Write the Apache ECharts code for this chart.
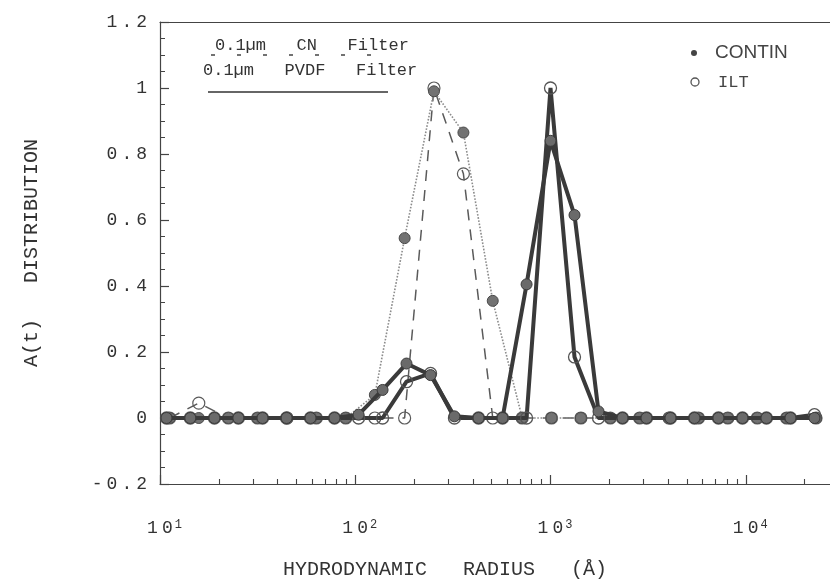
<!DOCTYPE html>
<html><head><meta charset="utf-8">
<script src="https://cdn.jsdelivr.net/npm/echarts@6/dist/echarts.min.js"></script>
<style>html,body{margin:0;padding:0;background:#fff}#c{width:830px;height:585px}</style>
</head><body><div id="c"></div>
<script>
// 0.1 µm CN filter (dotted = CONTIN, dashed = ILT)
const cnRadius = [11.2, 15.8, 22.4, 31.6, 44.7, 63.2, 89.4, 126, 179, 253, 358, 506, 716, 1012, 1431, 2024, 2862, 4048, 5724, 8095, 11450, 16190, 22900];
const cnContin = [0, 0, 0, 0, 0, 0, 0, 0.07, 0.545, 0.99, 0.865, 0.355, 0, 0, 0, 0, 0, 0, 0, 0, 0, 0, 0];
const cnIlt    = [0, 0.045, 0, 0, 0, 0, 0, 0, 0, 1.0, 0.74, 0, 0, 0, 0, 0, 0, 0, 0, 0, 0, 0, 0];
// 0.1 µm PVDF filter (solid lines)
const pvdfRadius = [10.8, 14.3, 19.0, 25.2, 33.5, 44.5, 59.0, 78.3, 104, 138, 183, 243, 322, 428, 568, 754, 1000, 1327, 1761, 2337, 3101, 4115, 5461, 7247, 9617, 12760, 16940, 22480];
const pvdfContin = [0, 0, 0, 0, 0, 0, 0, 0, 0.01, 0.085, 0.165, 0.13, 0.005, 0, 0, 0.405, 0.84, 0.615, 0.02, 0, 0, 0, 0, 0, 0, 0, 0, 0];
const pvdfIlt    = [0, 0, 0, 0, 0, 0, 0, 0, 0, 0, 0.11, 0.135, 0, 0, 0, 0, 1.0, 0.185, 0, 0, 0, 0, 0, 0, 0, 0, 0, 0.01];
// axis ticks
const xMajorTicks = [10, 100, 1000, 10000];
const xMinorTicks = [20, 30, 40, 50, 60, 70, 80, 90, 200, 300, 400, 500, 600, 700, 800, 900,
  2000, 3000, 4000, 5000, 6000, 7000, 8000, 9000, 20000];
const xMin = 10, xMax = 27000;
const yMin = -0.2, yMax = 1.2, yStep = 0.2;

const zip = (xs, ys) => xs.map((x, i) => [x, ys[i]]);
const spaced = s => s.split('').map(ch => '{d|' + ch + '}').join('{g|}');
const MONO = 'Liberation Mono';
const INK = '#3a3a3a';
const AX = '#444';

const chart = echarts.init(document.getElementById('c'), null, {renderer: 'canvas'});
chart.setOption({
  animation: false,
  backgroundColor: '#fff',
  grid: {left: 160, right: 0, top: 22, bottom: 98, show: false},
  xAxis: [{
    type: 'log', logBase: 10, min: xMin, max: xMax, position: 'bottom',
    axisLine: {show: true, onZero: false, lineStyle: {color: AX, width: 1.2}},
    axisTick: {show: true, inside: true, length: 9, customValues: xMajorTicks, lineStyle: {color: AX, width: 1.2}},
    splitLine: {show: false},
    axisLabel: {
      customValues: xMajorTicks, margin: 35, color: '#333',
      formatter: v => '{p|}' + spaced('10') + '{s|' + Math.round(Math.log10(v)) + '}',
      rich: {
        d: {fontFamily: MONO, fontSize: 18, color: '#333'},
        g: {width: 4},
        p: {width: 9},
        s: {fontFamily: MONO, fontSize: 12, color: '#333', verticalAlign: 'top', padding: [0, 0, 0, 2]}
      }
    },
    name: 'HYDRODYNAMIC   RADIUS   (Å)', nameLocation: 'middle', nameGap: 76,
    nameTextStyle: {fontFamily: MONO, fontSize: 20, color: '#333', padding: [0, 100, 0, 0]}
  }, {
    // helper axis in log10 units, only to draw the 2..9 minor ticks
    type: 'value', min: Math.log10(xMin), max: Math.log10(xMax), position: 'bottom',
    axisLine: {show: false, onZero: false},
    axisTick: {show: true, inside: true, length: 5, customValues: xMinorTicks.map(Math.log10), lineStyle: {color: AX, width: 1.1}},
    axisLabel: {show: false},
    splitLine: {show: false}
  }, {
    type: 'log', logBase: 10, min: xMin, max: xMax, position: 'top',
    axisLine: {show: true, onZero: false, lineStyle: {color: AX, width: 1.2}},
    axisTick: {show: false},
    axisLabel: {show: false},
    splitLine: {show: false}
  }],
  yAxis: {
    type: 'value', min: yMin, max: yMax, interval: yStep,
    axisLine: {show: true, lineStyle: {color: AX, width: 1.2}},
    axisTick: {show: true, inside: true, length: 9, lineStyle: {color: AX, width: 1.2}},
    minorTick: {show: true, splitNumber: 4, length: 5, lineStyle: {color: AX}},
    splitLine: {show: false},
    axisLabel: {
      margin: 13,
      formatter: v => spaced(String(Math.round(v * 10) / 10)),
      rich: {d: {fontFamily: MONO, fontSize: 18, color: '#333'}, g: {width: 4}}
    },
    name: 'A(t)   DISTRIBUTION', nameLocation: 'middle', nameGap: 118,
    nameTextStyle: {fontFamily: MONO, fontSize: 20, color: '#333'}
  },
  series: [
    {
      name: 'CN ILT', type: 'line', data: zip(cnRadius, cnIlt), z: 2,
      symbol: 'circle', symbolSize: 12,
      lineStyle: {type: [11, 9], width: 1.5, color: '#5a5a5a'},
      itemStyle: {color: 'rgba(255,255,255,0)', borderColor: '#5a5a5a', borderWidth: 1.2}
    },
    {
      name: 'CN CONTIN', type: 'line', data: zip(cnRadius, cnContin), z: 3,
      symbol: 'circle', symbolSize: 11,
      lineStyle: {type: 'dotted', width: 1.6, color: '#8c8c8c'},
      itemStyle: {color: '#727272', borderColor: '#4a4a4a', borderWidth: 1}
    },
    {
      name: 'PVDF ILT', type: 'line', data: zip(pvdfRadius, pvdfIlt), z: 4,
      symbol: 'circle', symbolSize: 12,
      lineStyle: {type: 'solid', width: 4, color: INK},
      itemStyle: {color: 'rgba(255,255,255,0)', borderColor: '#555', borderWidth: 1.3}
    },
    {
      name: 'PVDF CONTIN', type: 'line', data: zip(pvdfRadius, pvdfContin), z: 5,
      symbol: 'circle', symbolSize: 11,
      lineStyle: {type: 'solid', width: 4, color: INK},
      itemStyle: {color: '#6a6a6a', borderColor: INK, borderWidth: 1}
    }
  ],
  graphic: [
    {type: 'text', x: 215, y: 45, style: {text: '0.1µm   CN   Filter', fontFamily: MONO, fontSize: 17, fill: '#333', verticalAlign: 'middle', align: 'left'}},
    {type: 'line', shape: {x1: 211, y1: 55, x2: 372, y2: 55}, style: {stroke: '#444', lineWidth: 1.5, lineDash: [4, 22]}},
    {type: 'text', x: 203, y: 70, style: {text: '0.1µm   PVDF   Filter', fontFamily: MONO, fontSize: 17, fill: '#333', verticalAlign: 'middle', align: 'left'}},
    {type: 'line', shape: {x1: 208, y1: 92, x2: 388, y2: 92}, style: {stroke: '#333', lineWidth: 1.5}},
    {type: 'circle', shape: {cx: 694, cy: 53, r: 3}, style: {fill: '#444'}},
    {type: 'text', x: 715, y: 53, style: {text: 'CONTIN', fontFamily: 'Liberation Sans', fontSize: 19, fill: '#444', verticalAlign: 'middle', align: 'left'}},
    {type: 'circle', shape: {cx: 695, cy: 82, r: 4}, style: {fill: 'none', stroke: '#555', lineWidth: 1.3}},
    {type: 'text', x: 718, y: 82, style: {text: 'ILT', fontFamily: MONO, fontSize: 17, fill: '#444', verticalAlign: 'middle', align: 'left'}}
  ]
});
</script></body></html>
